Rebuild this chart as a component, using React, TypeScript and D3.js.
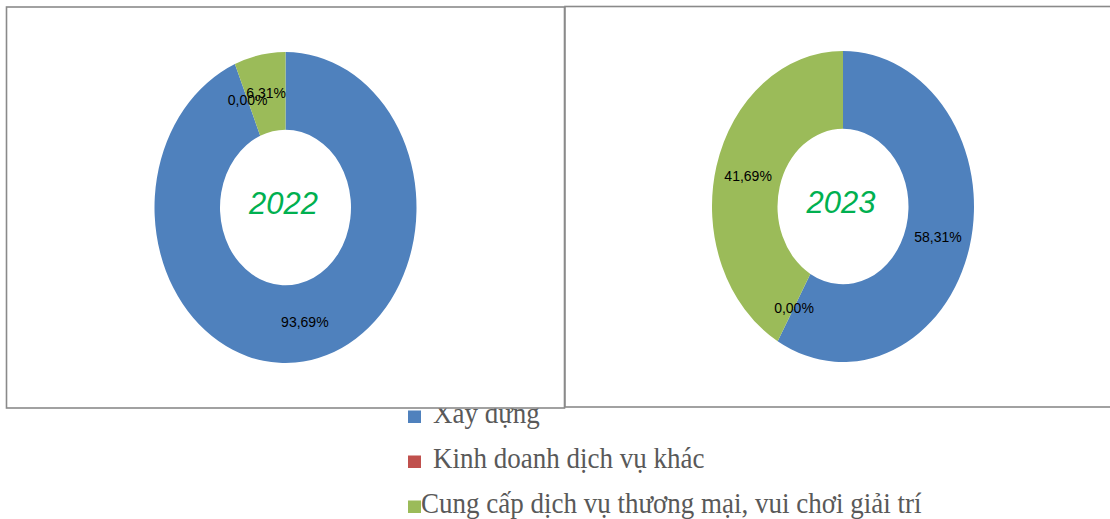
import { useEffect, useRef } from "react";
import * as d3 from "d3";

// Data
const categories = ["Xây dựng", "Kinh doanh dịch vụ khác", "Cung cấp dịch vụ thương mại, vui chơi giải trí"];
const years = ["2022", "2023"];
const values2022 = [93.69, 0.0, 6.31];
const values2023 = [58.31, 0.0, 41.69];
const colors = ["#4F81BD", "#C0504D", "#9BBB59"];

const WIDTH = 1110;
const HEIGHT = 519;

interface Slice {
  name: string;
  value: number;
  color: string;
}

export default function App() {
  const svgRef = useRef<SVGSVGElement | null>(null);

  useEffect(() => {
    if (!svgRef.current) return;
    const svg = d3.select(svgRef.current);
    svg.selectAll("*").remove();

    // Legend first: panel boxes sit on top of it and clip the first row
    const legend = svg.append("g");
    const legendRows = [
      { y: 423, textX: 433 },
      { y: 468, textX: 433 },
      { y: 513, textX: 421 },
    ];
    categories.forEach((name, i) => {
      const row = legendRows[i];
      legend.append("rect")
        .attr("x", 408)
        .attr("y", row.y - 12.5)
        .attr("width", 13)
        .attr("height", 12.5)
        .attr("fill", colors[i]);
      legend.append("text")
        .attr("transform", `translate(${row.textX}, ${row.y}) scale(1, 1.1)`)
        .attr("font-family", "'Liberation Serif', 'Times New Roman', serif")
        .attr("font-size", 27)
        .attr("fill", "#595959")
        .text(name);
    });

    // Panel frames
    const panels = [
      { x: 6.5, y: 7, w: 558, h: 401 },
      { x: 565, y: 6.5, w: 560, h: 400.5 },
    ];
    panels.forEach(p => {
      svg.append("rect")
        .attr("x", p.x)
        .attr("y", p.y)
        .attr("width", p.w)
        .attr("height", p.h)
        .attr("fill", "#ffffff")
        .attr("stroke", "#8a8a8a")
        .attr("stroke-width", 1.6);
    });

    // Donuts are elliptical in the reference: draw circular arcs and stretch vertically
    const rx = 131;
    const ry = 155.5;
    const sy = ry / rx;
    const centers = [
      { cx: 285.5, cy: 207.5 },
      { cx: 843, cy: 206.5 },
    ];
    const datasets = [values2022, values2023];

    const pie = d3.pie<Slice>()
      .sort(null)
      .value(d => d.value);

    const arcGen = d3.arc<d3.PieArcDatum<Slice>>()
      .innerRadius(rx * 0.5)
      .outerRadius(rx);

    datasets.forEach((vals, k) => {
      const { cx, cy } = centers[k];
      const slices: Slice[] = vals.map((v, i) => ({ name: categories[i], value: v, color: colors[i] }));
      const arcs = pie(slices);

      const ring = svg.append("g")
        .attr("transform", `translate(${cx}, ${cy}) scale(1, ${sy})`);
      ring.selectAll("path")
        .data(arcs)
        .enter()
        .append("path")
        .attr("d", arcGen)
        .attr("fill", d => d.data.color);

      // Data labels at slice centroids (in the stretched space)
      const labels = svg.append("g").attr("transform", `translate(${cx}, ${cy})`);
      labels.selectAll("text")
        .data(arcs)
        .enter()
        .append("text")
        .attr("x", d => arcGen.centroid(d)[0])
        .attr("y", d => arcGen.centroid(d)[1] * sy)
        .attr("text-anchor", "middle")
        .attr("dominant-baseline", "central")
        .attr("font-family", "'Liberation Sans', Arial, sans-serif")
        .attr("font-size", 14)
        .attr("fill", "#000000")
        .text(d => `${d.data.value.toFixed(2).replace(".", ",")}%`);

      // Year in the hole
      svg.append("text")
        .attr("x", cx - 2)
        .attr("y", cy + 6.5)
        .attr("text-anchor", "middle")
        .attr("font-family", "Arial, 'Liberation Sans', sans-serif")
        .attr("font-style", "italic")
        .attr("font-size", 31)
        .attr("fill", "#00B050")
        .text(years[k]);
    });
  }, []);

  return (
    <div style={{ position: "absolute", left: 0, top: 0, width: WIDTH, height: HEIGHT, background: "#ffffff" }}>
      <svg ref={svgRef} width={WIDTH} height={HEIGHT} style={{ display: "block" }} />
    </div>
  );
}
